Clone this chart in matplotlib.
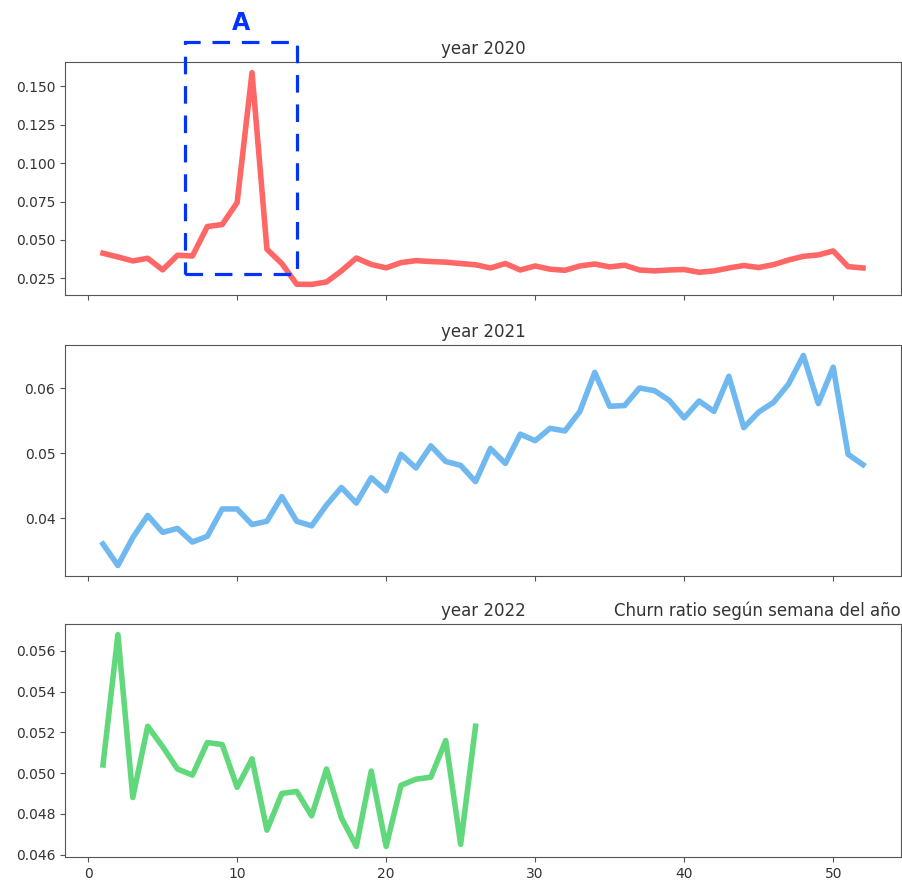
import matplotlib
matplotlib.use("Agg")
import matplotlib.pyplot as plt
from matplotlib.patches import Rectangle
from matplotlib.ticker import FormatStrFormatter

weeks_2020 = list(range(1, 53))
churn_2020 = [0.0413, 0.0389, 0.0363, 0.0380, 0.0305, 0.0400, 0.0395, 0.0587, 0.0600, 0.0743,
              0.1590, 0.0439, 0.0346, 0.0211, 0.0210, 0.0226, 0.0298, 0.0382, 0.0340, 0.0318,
              0.0352, 0.0365, 0.0359, 0.0355, 0.0346, 0.0338, 0.0317, 0.0346, 0.0304, 0.0330,
              0.0309, 0.0302, 0.0330, 0.0343, 0.0324, 0.0335, 0.0304, 0.0298, 0.0304, 0.0307,
              0.0289, 0.0298, 0.0317, 0.0333, 0.0320, 0.0339, 0.0369, 0.0393, 0.0402, 0.0428,
              0.0326, 0.0317]

weeks_2021 = list(range(1, 53))
churn_2021 = [0.0360, 0.0327, 0.0370, 0.0404, 0.0378, 0.0384, 0.0363, 0.0372, 0.0414, 0.0414,
              0.0390, 0.0395, 0.0433, 0.0395, 0.0388, 0.0420, 0.0447, 0.0423, 0.0462, 0.0442,
              0.0498, 0.0477, 0.0511, 0.0487, 0.0481, 0.0456, 0.0507, 0.0484, 0.0529, 0.0519,
              0.0538, 0.0534, 0.0564, 0.0624, 0.0572, 0.0573, 0.0600, 0.0596, 0.0581, 0.0554,
              0.0580, 0.0564, 0.0618, 0.0539, 0.0563, 0.0578, 0.0606, 0.0650, 0.0576, 0.0632,
              0.0498, 0.0482]

weeks_2022 = list(range(1, 27))
churn_2022 = [0.0504, 0.0568, 0.0488, 0.0523, 0.0513, 0.0502, 0.0499, 0.0515, 0.0514, 0.0493,
              0.0507, 0.0472, 0.0490, 0.0491, 0.0479, 0.0502, 0.0478, 0.0464, 0.0501, 0.0464,
              0.0494, 0.0497, 0.0498, 0.0516, 0.0465, 0.0523]

titles = ["year 2020", "year 2021", "year 2022"]
main_title = "Churn ratio según semana del año"
colors = ["#ff6666", "#70b8f0", "#62d87c"]

xticks = [0, 10, 20, 30, 40, 50]
yticks_2020 = [0.025, 0.050, 0.075, 0.100, 0.125, 0.150]
yticks_2021 = [0.04, 0.05, 0.06]
yticks_2022 = [0.046, 0.048, 0.050, 0.052, 0.054, 0.056]

# highlighted region "A" in data units of the 2020 panel
box_weeks = (6.5, 14.05)
box_vals = (0.0276, 0.1787)

plt.rcParams["font.family"] = ["DejaVu Sans"]
plt.rcParams["axes.edgecolor"] = "#555555"
plt.rcParams["xtick.color"] = "#555555"
plt.rcParams["ytick.color"] = "#555555"
plt.rcParams["xtick.labelcolor"] = "#333333"
plt.rcParams["ytick.labelcolor"] = "#333333"
plt.rcParams["text.color"] = "#333333"

W, H = 902, 881
fig = plt.figure(figsize=(W / 100, H / 100), dpi=100)

def ax_rect(left, top, right, bottom):
    return [left / W, 1 - bottom / H, (right - left) / W, (bottom - top) / H]

ax1 = fig.add_axes(ax_rect(65, 62, 901, 295))
ax2 = fig.add_axes(ax_rect(65, 345, 901, 576), sharex=ax1)
ax3 = fig.add_axes(ax_rect(65, 624, 901, 857), sharex=ax1)

ax1.plot(weeks_2020, churn_2020, color=colors[0], lw=4)
ax2.plot(weeks_2021, churn_2021, color=colors[1], lw=4)
ax3.plot(weeks_2022, churn_2022, color=colors[2], lw=4)

for ax, t in zip([ax1, ax2, ax3], titles):
    ax.set_title(t, fontsize=12)
ax3.set_title(main_title, loc="right", fontsize=12)

ax1.set_xlim(-1.55, 54.55)
ax1.set_xticks(xticks)
for ax in (ax1, ax2):
    ax.tick_params(labelbottom=False)

ax1.set_yticks(yticks_2020)
ax1.yaxis.set_major_formatter(FormatStrFormatter("%.3f"))
ax2.set_yticks(yticks_2021)
ax3.set_yticks(yticks_2022)

rect = Rectangle((box_weeks[0], box_vals[0]), box_weeks[1] - box_weeks[0],
                 box_vals[1] - box_vals[0], fill=False, edgecolor="#0033ff",
                 lw=2.3, linestyle=(0, (5.5, 3.7)), clip_on=False, zorder=5)
ax1.add_patch(rect)
ax1.text((box_weeks[0] + box_weeks[1]) / 2, box_vals[1] + 0.0045, "A",
         ha="center", va="bottom", fontsize=17, fontweight="bold",
         color="#0033ff", clip_on=False)

fig.savefig("out.png", dpi=100)
